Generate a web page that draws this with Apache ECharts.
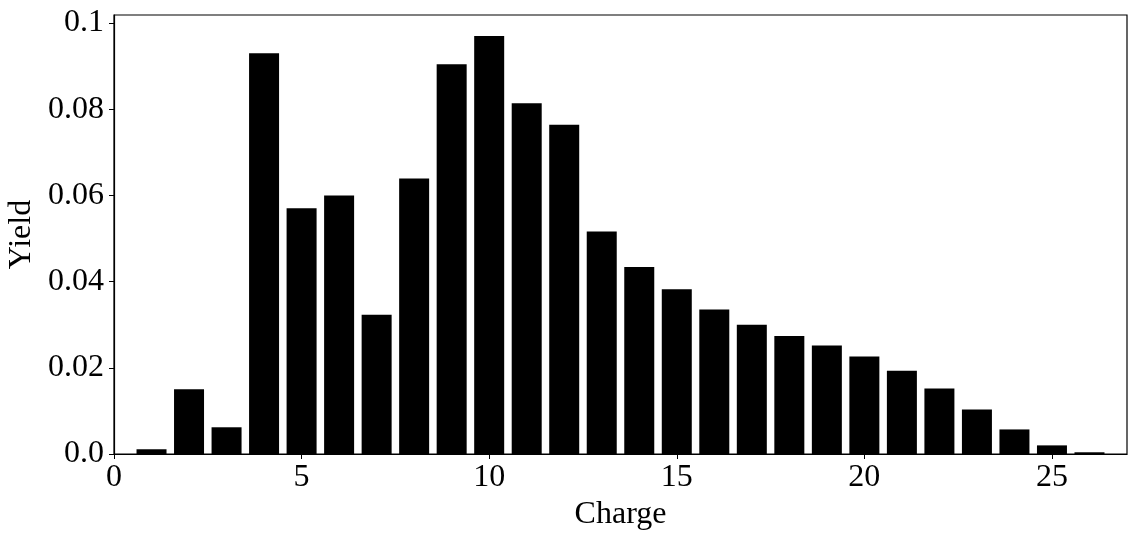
<!DOCTYPE html>
<html>
<head>
<meta charset="utf-8">
<script src="https://cdn.jsdelivr.net/npm/echarts@6/dist/echarts.min.js"></script>
<style>
  html, body { margin: 0; padding: 0; background: #fff; }
  #chart { width: 1142px; height: 542px; }
</style>
</head>
<body>
<div id="chart"></div>
<script>
// charge states and their yields
var charges = [1, 2, 3, 4, 5, 6, 7, 8, 9, 10, 11, 12, 13, 14, 15, 16, 17, 18, 19, 20, 21, 22, 23, 24, 25, 26];
var yields = [0.0011, 0.0150, 0.0062, 0.0930, 0.0570, 0.0600, 0.0323, 0.0639, 0.0904, 0.0970,
              0.0814, 0.0764, 0.0516, 0.0434, 0.0382, 0.0335, 0.0300, 0.0274, 0.0252, 0.0226,
              0.0193, 0.0152, 0.0103, 0.0057, 0.0020, 0.0004];
var xTicks = [0, 5, 10, 15, 20, 25];
var yTicks = [0, 0.02, 0.04, 0.06, 0.08, 0.1];

var font = '"Liberation Serif", "DejaVu Serif", serif';

var chart = echarts.init(document.getElementById('chart'));
var option = {
    backgroundColor: '#fff',
    animation: false,
    grid: {
        left: 114, top: 15, width: 1013, height: 439,
        containLabel: false, outerBoundsMode: 'none',
        show: true, borderColor: '#000', borderWidth: 1.2, backgroundColor: 'transparent'
    },
    xAxis: {
        type: 'value',
        min: 0, max: 27,
        name: 'Charge',
        nameLocation: 'middle',
        nameGap: 44,
        nameTextStyle: { fontFamily: font, fontSize: 32, color: '#000' },
        splitLine: { show: false },
        axisLine: { show: true, onZero: false, lineStyle: { color: '#000', width: 1.2 } },
        axisTick: { show: true, length: 5, lineStyle: { color: '#000', width: 1 }, customValues: xTicks },
        axisLabel: {
            fontFamily: font, fontSize: 32, color: '#000', margin: 8,
            customValues: xTicks,
            formatter: function (v) { return String(v); }
        }
    },
    yAxis: {
        type: 'value',
        min: 0, max: 0.10185,
        name: 'Yield',
        nameLocation: 'middle',
        nameGap: 74,
        nameTextStyle: { fontFamily: font, fontSize: 32, color: '#000' },
        splitLine: { show: false },
        axisLine: { show: true, lineStyle: { color: '#000', width: 1.2 } },
        axisTick: { show: true, length: 5, lineStyle: { color: '#000', width: 1 }, customValues: yTicks },
        axisLabel: {
            fontFamily: font, fontSize: 32, color: '#000', margin: 10,
            customValues: yTicks,
            formatter: function (v) {
                if (v === 0) return '0.0';
                if (Math.abs(v - 0.1) < 1e-9) return '0.1';
                return v.toFixed(2);
            }
        }
    },
    series: [{
        type: 'bar',
        barWidth: 30,
        itemStyle: { color: '#000' },
        data: charges.map(function (c, i) { return [c, yields[i]]; })
    }]
};
chart.setOption(option);
</script>
</body>
</html>
